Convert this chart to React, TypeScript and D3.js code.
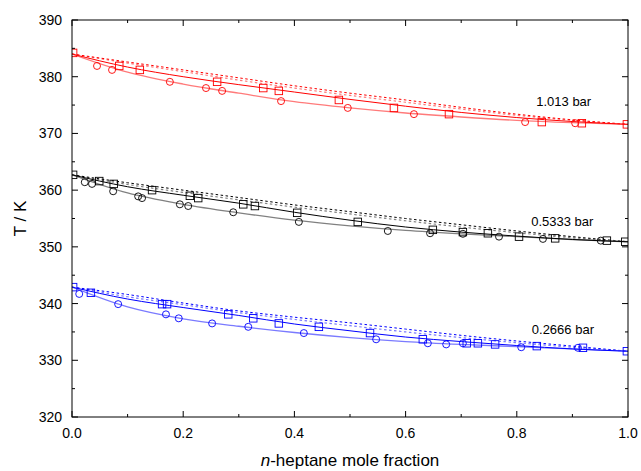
import { useEffect, useRef } from "react";
import * as d3 from "d3";

// model curves sampled at these mole fractions
const curveX = [0, 0.1, 0.2, 0.3, 0.4, 0.5, 0.6, 0.7, 0.8, 0.9, 1.0];

// 1.013 bar
const redSolidA = [384.0, 381.7, 380.0, 378.6, 377.3, 376.0, 374.8, 373.7, 372.8, 372.1, 371.6];
const redSolidB = [384.0, 380.8, 378.7, 377.1, 375.6, 374.5, 373.6, 372.9, 372.3, 371.9, 371.6];
const redDashA = [384.0, 382.6, 381.2, 379.8, 378.4, 377.1, 375.9, 374.6, 373.4, 372.4, 371.6];
const redDashB = [384.0, 382.4, 380.9, 379.4, 378.0, 376.7, 375.5, 374.3, 373.2, 372.3, 371.6];
const redSqX = [0.002, 0.085, 0.122, 0.261, 0.344, 0.372, 0.48, 0.579, 0.678, 0.845, 0.917, 0.998];
const redSqT = [384.2, 381.9, 381.2, 379.1, 378.0, 377.5, 375.9, 374.5, 373.4, 372.0, 371.8, 371.6];
const redCiX = [0.045, 0.072, 0.176, 0.241, 0.27, 0.376, 0.496, 0.615, 0.815, 0.905];
const redCiT = [381.9, 381.2, 379.1, 378.0, 377.5, 375.7, 374.5, 373.4, 372.0, 371.8];

// 0.5333 bar
const blkSolidA = [362.7, 360.6, 359.1, 357.7, 356.1, 354.7, 353.5, 352.6, 351.9, 351.3, 350.9];
const blkSolidB = [362.7, 359.5, 357.5, 356.0, 354.7, 353.7, 352.9, 352.3, 351.8, 351.3, 350.9];
const blkDashA = [362.7, 361.3, 360.0, 358.7, 357.4, 356.2, 355.0, 353.9, 352.8, 351.8, 350.9];
const blkDashB = [362.7, 361.0, 359.6, 358.3, 357.0, 355.8, 354.6, 353.5, 352.5, 351.6, 350.9];
const blkSqX = [0.002, 0.049, 0.075, 0.144, 0.212, 0.227, 0.308, 0.329, 0.405, 0.514, 0.649, 0.703, 0.748, 0.804, 0.869, 0.962, 0.995];
const blkSqT = [362.7, 361.6, 361.1, 360.0, 359.0, 358.6, 357.5, 357.2, 356.0, 354.4, 353.0, 352.6, 352.4, 351.8, 351.5, 351.1, 350.9];
const blkCiX = [0.023, 0.036, 0.074, 0.119, 0.126, 0.194, 0.209, 0.29, 0.408, 0.568, 0.644, 0.703, 0.768, 0.847, 0.951];
const blkCiT = [361.4, 361.1, 359.8, 358.9, 358.6, 357.5, 357.2, 356.1, 354.4, 352.8, 352.4, 352.3, 351.8, 351.4, 351.1];

// 0.2666 bar
const bluSolidA = [342.9, 340.8, 339.3, 337.9, 336.4, 335.2, 334.1, 333.3, 332.6, 332.0, 331.6];
const bluSolidB = [342.9, 339.4, 337.3, 336.0, 334.9, 334.0, 333.3, 332.8, 332.4, 332.0, 331.6];
const bluDashA = [342.9, 341.6, 340.1, 338.7, 337.6, 336.6, 335.5, 334.4, 333.4, 332.5, 331.6];
const bluDashB = [342.9, 341.2, 339.8, 338.4, 337.2, 336.1, 335.0, 334.0, 333.1, 332.3, 331.6];
const bluSqX = [0.002, 0.034, 0.162, 0.171, 0.281, 0.326, 0.372, 0.444, 0.536, 0.631, 0.71, 0.73, 0.761, 0.836, 0.919, 0.998];
const bluSqT = [342.9, 341.9, 339.9, 339.9, 338.1, 337.4, 336.5, 335.9, 334.8, 333.7, 333.0, 333.0, 332.8, 332.5, 332.2, 331.6];
const bluCiX = [0.013, 0.083, 0.169, 0.192, 0.252, 0.317, 0.417, 0.547, 0.64, 0.673, 0.703, 0.808, 0.91];
const bluCiT = [341.7, 339.9, 338.1, 337.4, 336.5, 335.9, 334.8, 333.7, 333.0, 332.8, 333.0, 332.3, 332.2];

const xTicks = [0, 0.2, 0.4, 0.6, 0.8, 1.0];
const yTicks = [320, 330, 340, 350, 360, 370, 380, 390];
const pressureLabels = ["1.013 bar", "0.5333 bar", "0.2666 bar"];

const App = () => {
  const svgRef = useRef<SVGSVGElement>(null);

  useEffect(() => {
    const width = 641;
    const height = 471;
    const left = 72;
    const right = 628;
    const top = 20;
    const bottom = 417;
    const font = "Liberation Sans, Arial, sans-serif";

    const svg = d3.select(svgRef.current);
    svg.selectAll("*").remove();

    const x = d3.scaleLinear().domain([0, 1]).range([left, right]);
    const y = d3.scaleLinear().domain([320, 390]).range([bottom, top]);

    const clip = svg.append("defs").append("clipPath").attr("id", "plotclip");
    clip.append("rect").attr("x", left).attr("y", top).attr("width", right - left).attr("height", bottom - top);

    const line = d3
      .line<number>()
      .x((_, i) => x(curveX[i]))
      .y((d) => y(d))
      .curve(d3.curveMonotoneX);

    const groups = [
      { main: "#ff0000", light: "#ff7a7a", solidA: redSolidA, solidB: redSolidB, dashA: redDashA, dashB: redDashB, sqX: redSqX, sqT: redSqT, ciX: redCiX, ciT: redCiT, label: pressureLabels[0], lx: 0.835, ly: 374.9 },
      { main: "#000000", light: "#808080", solidA: blkSolidA, solidB: blkSolidB, dashA: blkDashA, dashB: blkDashB, sqX: blkSqX, sqT: blkSqT, ciX: blkCiX, ciT: blkCiT, label: pressureLabels[1], lx: 0.826, ly: 353.7 },
      { main: "#0000ff", light: "#7a7aff", solidA: bluSolidA, solidB: bluSolidB, dashA: bluDashA, dashB: bluDashB, sqX: bluSqX, sqT: bluSqT, ciX: bluCiX, ciT: bluCiT, label: pressureLabels[2], lx: 0.827, ly: 334.6 },
    ];

    const plot = svg.append("g").attr("clip-path", "url(#plotclip)");

    groups.forEach((g) => {
      plot.append("path").attr("d", line(g.dashB)).attr("fill", "none")
        .attr("stroke", g.light).attr("stroke-width", 1.2).attr("stroke-dasharray", "2.5,2.5");
      plot.append("path").attr("d", line(g.dashA)).attr("fill", "none")
        .attr("stroke", g.main).attr("stroke-width", 1).attr("stroke-dasharray", "2.5,2.5");
      plot.append("path").attr("d", line(g.solidB)).attr("fill", "none")
        .attr("stroke", g.light).attr("stroke-width", 1.3);
      plot.append("path").attr("d", line(g.solidA)).attr("fill", "none")
        .attr("stroke", g.main).attr("stroke-width", 1);

      g.ciX.forEach((v, i) => {
        plot.append("circle").attr("cx", x(v)).attr("cy", y(g.ciT[i])).attr("r", 3.5)
          .attr("fill", "none").attr("stroke", g.main).attr("stroke-width", 0.9);
      });
      g.sqX.forEach((v, i) => {
        plot.append("rect").attr("x", x(v) - 3.75).attr("y", y(g.sqT[i]) - 3.75)
          .attr("width", 7.5).attr("height", 7.5)
          .attr("fill", "none").attr("stroke", g.main).attr("stroke-width", 0.9);
      });

      svg.append("text").attr("x", x(g.lx)).attr("y", y(g.ly))
        .attr("font-family", font).attr("font-size", 13)
        .attr("fill", "#000").text(g.label);
    });

    // frame
    svg.append("rect").attr("x", left).attr("y", top).attr("width", right - left).attr("height", bottom - top)
      .attr("fill", "none").attr("stroke", "#000").attr("stroke-width", 1);

    const ticks = svg.append("g").attr("stroke", "#000").attr("stroke-width", 1);
    d3.range(0, 1.0001, 0.1).forEach((v, i) => {
      const len = i % 2 === 0 ? 6 : 3;
      ticks.append("line").attr("x1", x(v)).attr("x2", x(v)).attr("y1", bottom).attr("y2", bottom - len);
      ticks.append("line").attr("x1", x(v)).attr("x2", x(v)).attr("y1", top).attr("y2", top + len);
    });
    d3.range(320, 390.001, 5).forEach((v, i) => {
      const len = i % 2 === 0 ? 6 : 3;
      ticks.append("line").attr("y1", y(v)).attr("y2", y(v)).attr("x1", left).attr("x2", left + len);
      ticks.append("line").attr("y1", y(v)).attr("y2", y(v)).attr("x1", right).attr("x2", right - len);
    });

    svg.append("g").selectAll("text").data(xTicks).enter().append("text")
      .attr("x", (d) => x(d)).attr("y", bottom + 21).attr("text-anchor", "middle")
      .attr("font-family", font).attr("font-size", 14).text((d) => d.toFixed(1));
    svg.append("g").selectAll("text").data(yTicks).enter().append("text")
      .attr("x", left - 10).attr("y", (d) => y(d) + 5).attr("text-anchor", "end")
      .attr("font-family", font).attr("font-size", 14).text((d) => d);

    const xt = svg.append("text").attr("x", 350).attr("y", 466).attr("text-anchor", "middle")
      .attr("font-family", font).attr("font-size", 17);
    xt.append("tspan").attr("font-style", "italic").text("n");
    xt.append("tspan").text("-heptane mole fraction");

    svg.append("text").attr("transform", `translate(26,${(top + bottom) / 2}) rotate(-90)`)
      .attr("text-anchor", "middle").attr("font-family", font).attr("font-size", 17).text("T / K");

    svg.attr("width", width).attr("height", height);
  }, []);

  return (
    <svg ref={svgRef} style={{ position: "absolute", left: 0, top: 0, background: "#fff" }}></svg>
  );
};

export default App;
